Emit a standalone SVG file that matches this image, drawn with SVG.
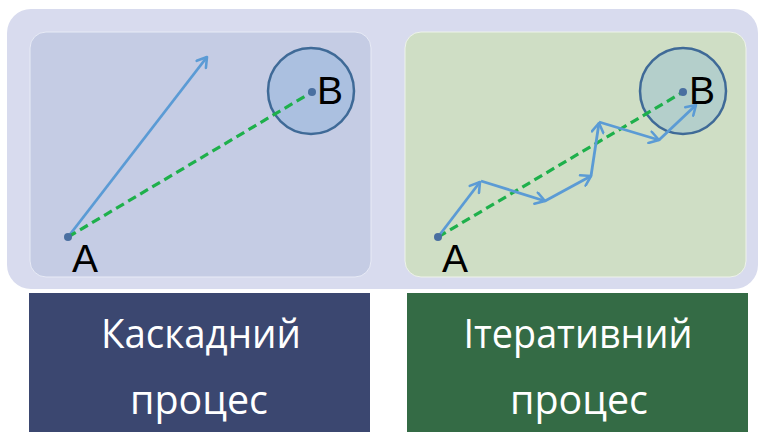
<svg xmlns="http://www.w3.org/2000/svg" width="759" height="432" viewBox="0 0 759 432">
<style>
.pt{fill:#4a6fa0}
.lbl{font-family:"Liberation Sans",Arial,sans-serif;font-size:39px;fill:#000}
.dash{stroke:#1eb04b;stroke-width:3.2;stroke-dasharray:9,5;fill:none}
.arr{stroke:#5b9bd5;stroke-width:2.8;fill:none;marker-end:url(#ah)}
.cap{font-family:"Open Sans","Noto Sans",sans-serif;font-size:41px;fill:#fff;text-anchor:middle}
.zone{stroke:#3f6a97;stroke-width:2.5}
</style>
<defs>
<marker id="ah" viewBox="0 0 12 12" refX="10" refY="6" markerWidth="5" markerHeight="5" markerUnits="strokeWidth" orient="auto">
<path d="M2,1 L10,6 L2,11" fill="none" stroke="#5b9bd5" stroke-width="2.2" stroke-linecap="round" stroke-linejoin="round"/>
</marker>
</defs>
<rect width="759" height="432" fill="#fff"/>
<rect id="backdrop" x="7" y="9" width="751" height="280" rx="24" fill="#d8dbee"/>
<g id="panel-cascade">
<rect x="30" y="32" width="341" height="245" rx="16" fill="#c5cce4" stroke="#e8ebf6" stroke-width="1"/>
<circle class="zone" cx="311" cy="91" r="43" fill="#abc0e0"/>
</g>
<g id="panel-iterative">
<rect x="405" y="32" width="341" height="245" rx="16" fill="#cfdec5" stroke="#eef3ea" stroke-width="1"/>
<circle class="zone" cx="683" cy="91" r="43" fill="#b4cfcb"/>
</g>
<g id="connectors">
<line class="arr" x1="68" y1="237" x2="207" y2="57"/>
<line class="dash" x1="68" y1="237" x2="312" y2="92"/>
<line class="dash" x1="438" y1="237" x2="683" y2="92"/>
<line class="arr" x1="438" y1="237" x2="480" y2="182"/>
<line class="arr" x1="481" y1="181" x2="545" y2="201"/>
<line class="arr" x1="545" y1="201" x2="591" y2="176"/>
<line class="arr" x1="591" y1="176" x2="599" y2="123"/>
<line class="arr" x1="599" y1="122" x2="659" y2="140"/>
<line class="arr" x1="659" y1="140" x2="696" y2="105"/>
</g>
<g id="point-A1"><circle class="pt" cx="68" cy="237" r="4"/><text class="lbl" x="72" y="272">A</text></g>
<g id="point-B1"><circle class="pt" cx="312" cy="92" r="4"/><text class="lbl" x="317" y="104">B</text></g>
<g id="point-A2"><circle class="pt" cx="438" cy="237" r="4"/><text class="lbl" x="442" y="272">A</text></g>
<g id="point-B2"><circle class="pt" cx="683" cy="92" r="4"/><text class="lbl" x="689" y="104">B</text></g>
<g id="box-cascade">
<rect x="29" y="293" width="341" height="139" fill="#3b4770"/>
<text class="cap" x="201" y="348" textLength="200" lengthAdjust="spacingAndGlyphs">Каскадний</text>
<text class="cap" x="199" y="414" textLength="138" lengthAdjust="spacingAndGlyphs">процес</text>
</g>
<g id="box-iterative">
<rect x="407" y="293" width="341" height="139" fill="#346b45"/>
<text class="cap" x="578" y="348" textLength="229" lengthAdjust="spacingAndGlyphs">Ітеративний</text>
<text class="cap" x="579" y="414" textLength="138" lengthAdjust="spacingAndGlyphs">процес</text>
</g>
</svg>
